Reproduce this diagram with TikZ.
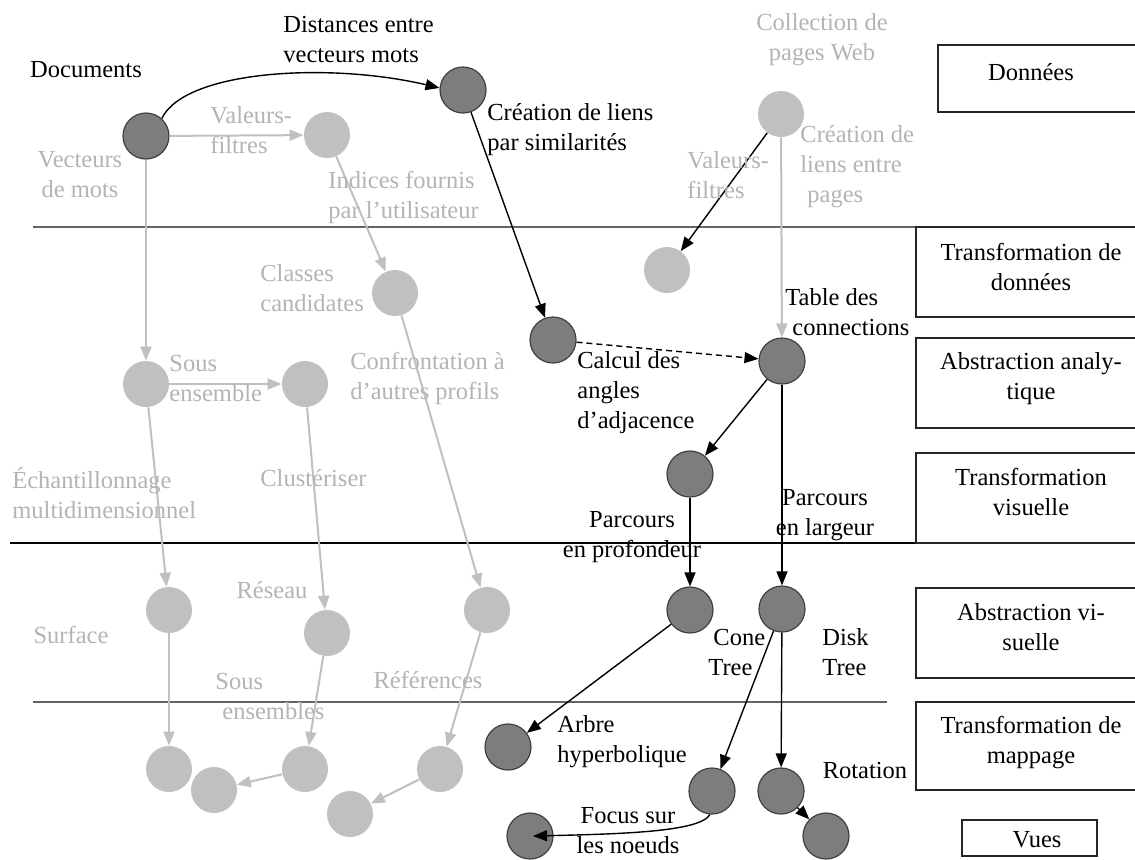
\documentclass[tikz,border=0pt]{standalone}
\usepackage{fontspec}
\setmainfont{Liberation Serif}
\usetikzlibrary{arrows.meta,calc}
\definecolor{lg}{RGB}{192,192,192}
\definecolor{gt}{RGB}{180,180,180}
\definecolor{dk}{RGB}{125,125,125}
\definecolor{sepc}{RGB}{100,100,100}
\begin{document}
\begin{tikzpicture}[x=0.5pt,y=-0.5pt,
  dnode/.style={circle,draw=black!75,line width=0.6pt,fill=dk,minimum size=23pt,inner sep=0pt},
  lnode/.style={circle,fill=lg,minimum size=23pt,inner sep=0pt},
  btxt/.style={font=\fontsize{12.25}{15}\selectfont,inner sep=0pt,text=black},
  gtxt/.style={btxt,text=gt},
  darr/.style={-{Triangle[length=7pt,width=5.5pt]},line width=0.7pt,draw=black},
  garr/.style={-{Triangle[length=7pt,width=5.5pt]},line width=1pt,draw=lg},
  lbox/.style={draw=black!85,line width=0.8pt},
  sepline/.style={line width=0.9pt}
]
\useasboundingbox (0,0) rectangle (1135,859);
\clip (0,0) rectangle (1135,859);
\fill[white] (0,0) rectangle (1135,859);

% separators
\draw[sepline,draw=sepc] (33,227) -- (1135,227);
\draw[sepline,draw=black] (10,543) -- (1135,543);
\draw[sepline,draw=sepc] (33,702) -- (887,702);

% boxes
\draw[lbox] (938,45) rectangle (1150,112);
\draw[lbox] (916,227) rectangle (1150,317);
\draw[lbox] (916,338) rectangle (1150,428);
\draw[lbox] (916,453) rectangle (1150,543);
\draw[lbox] (916,588) rectangle (1150,678);
\draw[lbox] (916,702) rectangle (1150,790);
\draw[lbox] (962,820) rectangle (1097,856);

\node[btxt] (bDon) at (1031,72) {Données};
\node[btxt,align=center] (bTD) at (1031,267) {Transformation de\\données};
\node[btxt,align=center] (bAA) at (1031,379) {Abstraction analy-\\tique};
\node[btxt,align=center] (bTV) at (1031,492) {Transformation\\visuelle};
\node[btxt,align=center] (bAV) at (1031,627) {Abstraction vi-\\suelle};
\node[btxt,align=center] (bTM) at (1031,742) {Transformation de\\mappage};
\node[btxt] (bVues) at (1037,840) {Vues};

% dark nodes
\node[dnode] (Doc) at (146,136) {};
\node[dnode] (D2) at (463,90) {};
\node[dnode] (D3) at (553,340) {};
\node[dnode] (TC) at (782,361) {};
\node[dnode] (D5) at (690,474) {};
\node[dnode] (D6) at (690,610) {};
\node[dnode] (D7) at (782,609) {};
\node[dnode] (AH) at (508,747) {};
\node[dnode] (D9) at (712,791) {};
\node[dnode] (D10) at (530,836) {};
\node[dnode] (D11) at (781,791) {};
\node[dnode] (D12) at (826,836) {};

% light nodes
\node[lnode] (L1) at (327,135) {};
\node[lnode] (L2) at (781,114) {};
\node[lnode] (L3) at (667,270) {};
\node[lnode] (L4) at (395,293) {};
\node[lnode] (L5) at (146,384) {};
\node[lnode] (L6) at (305,384) {};
\node[lnode] (Surf) at (169,610) {};
\node[lnode] (Res) at (327,633) {};
\node[lnode] (Ref) at (487,610) {};
\node[lnode] (A) at (169,769) {};
\node[lnode] (B) at (214,790) {};
\node[lnode] (C) at (305,769) {};
\node[lnode] (Dn) at (350,814) {};
\node[lnode] (E) at (440,769) {};

% gray connectors
\draw[garr] (Doc) -- (L1);
\draw[garr] (Doc) -- (L5);
\draw[garr] (L1) -- (L4);
\draw[garr] (L5) -- (L6);
\draw[garr] (L5) -- (Surf);
\draw[garr] (L6) -- (Res);
\draw[garr] (L4) -- (Ref);
\draw[garr] (L2) -- (TC);
\draw[garr] (Surf) -- (A);
\draw[garr] (Res) -- (C);
\draw[garr] (C) -- (B);
\draw[garr] (Ref) -- (E);
\draw[garr] (E) -- (Dn);

% black connectors
\draw[darr] (Doc.48) .. controls (185,70) and (330,62) .. (D2.175);
\draw[darr] (D2) -- (D3);
\draw[darr] (L2) -- (L3);
\draw[darr,dash pattern=on 3pt off 2pt] (D3) -- (TC);
\draw[darr] (TC) -- (D5);
\draw[darr] (TC) -- (D7);
\draw[darr] (D5) -- (D6);
\draw[darr] (D6) -- (AH);
\draw[darr] (D7) -- (D9);
\draw[darr] (D7) -- (D11);
\draw[darr] (D11) -- (D12);
\draw[darr] (D9.265) .. controls (700,832) and (620,834) .. ($(D10.center)+(3,0)$);

% black labels
\node[btxt] (tDoc) at (86,70) {Documents};
\node[btxt,align=left,anchor=west] (tDist) at (283,39) {Distances entre\\vecteurs mots};
\node[btxt,align=left,anchor=west] (tCre) at (487,130) {Création de liens\\par similarités};
\node[btxt,align=left,anchor=west] (tTab) at (785,312) {Table des\\\hspace*{3.5pt}connections};
\node[btxt,align=left,anchor=west] (tCal) at (577,393) {Calcul des\\angles\\d’adjacence};
\node[btxt,align=center] (tPP) at (632,537) {Parcours\\en profondeur};
\node[btxt,align=center] (tPL) at (825,515) {Parcours\\en largeur};
\node[btxt,align=left,anchor=west] (tCone) at (708,652) {\hspace*{2.5pt}Cone\\Tree};
\node[btxt,align=left,anchor=west] (tDisk) at (822,652) {Disk\\Tree};
\node[btxt,align=left,anchor=west] (tArb) at (557,742) {Arbre\\hyperbolique};
\node[btxt,align=center] (tFoc) at (628,831) {Focus sur\\les noeuds};
\node[btxt] (tRot) at (865,770) {Rotation};

% gray labels
\node[gtxt,align=left,anchor=west] (gVal1) at (210,130) {Valeurs-\\filtres};
\node[gtxt,align=center] (gVec) at (80,175) {Vecteurs\\de mots};
\node[gtxt,align=left,anchor=west] (gInd) at (328,197) {Indices fournis\\par l’utilisateur};
\node[gtxt,align=center] (gCol) at (822,40) {Collection de\\pages Web};
\node[gtxt,align=left,anchor=west] (gVal2) at (687,175) {Valeurs-\\filtres};
\node[gtxt,align=left,anchor=west] (gCrp) at (800,167) {Création de\\liens entre\\\hspace*{3.5pt}pages};
\node[gtxt,align=left,anchor=west] (gCla) at (260,288) {Classes\\candidates};
\node[gtxt,align=left,anchor=west] (gSous) at (169,378) {Sous\\ensemble};
\node[gtxt,align=left,anchor=west] (gConf) at (350,378) {Confrontation à\\d’autres profils};
\node[gtxt,align=left,anchor=west] (gEch) at (12,493) {Échantillonnage\\multidimensionnel};
\node[gtxt,anchor=west] (gClu) at (260,478) {Clustériser};
\node[gtxt] (gSurf) at (71,635) {Surface};
\node[gtxt] (gRes) at (272,590) {Réseau};
\node[gtxt,align=left,anchor=west] (gSE) at (215,696) {Sous\\\hspace*{3.5pt}ensembles};
\node[gtxt] (gRef) at (428,680) {Références};
\end{tikzpicture}
\end{document}
